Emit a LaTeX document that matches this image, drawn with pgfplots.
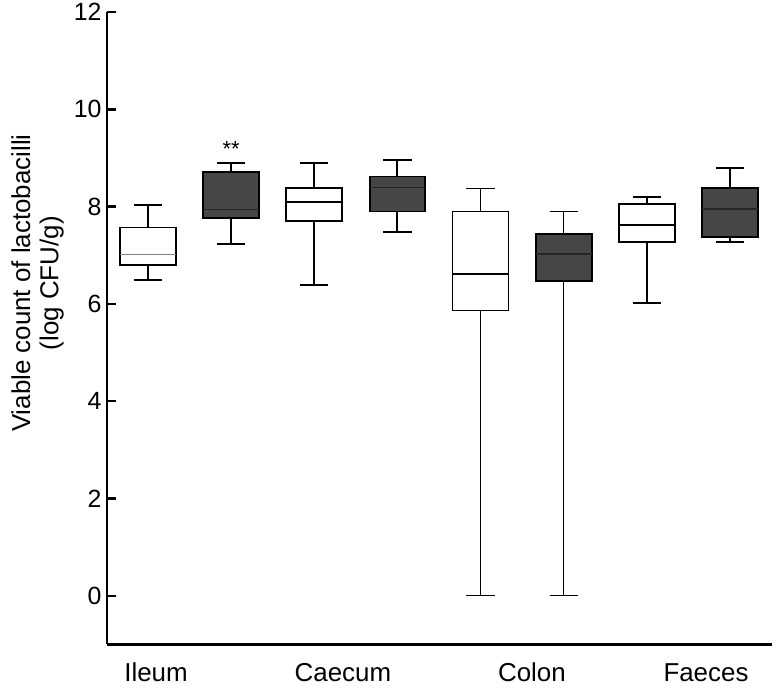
\documentclass[border=0pt]{standalone}
\usepackage{pgfplots}
\pgfplotsset{compat=1.18}
\usepgfplotslibrary{statistics}
\usepackage{fontspec}
\setmainfont{Liberation Sans}
\definecolor{darkbox}{RGB}{70,70,70}
\begin{document}
\begin{tikzpicture}
\begin{axis}[
  scale only axis,
  width=665bp, height=632bp,
  xmin=0.507, xmax=8.505, ymin=-0.99, ymax=12,
  axis x line*=bottom, axis y line*=left,
  x axis line style={-, line width=3pt},
  y axis line style={-, line width=3pt},
  ytick={0,2,4,6,8,10,12},
  xtick={1.096,3.345,5.618,7.711},
  xticklabels={Ileum,Caecum,Colon,Faeces},
  x tick style={draw=none},
  y tick style={line width=2.4pt, black},
  tick align=inside, major tick length=9bp,
  yticklabel style={font=\fontsize{25}{29}\selectfont, black, xshift=-2bp},
  xticklabel style={font=\fontsize{26}{30}\selectfont, black, text height=19bp, text depth=0bp, yshift=-15bp},
  /pgf/number format/assume math mode=true,
  ylabel={Viable count of lactobacilli\\(log CFU/g)},
  ylabel style={align=center, font=\fontsize{26}{28.5}\selectfont, at={(rel axis cs:-0.1045,0.571)}, anchor=center},
  clip=false,
  boxplot/draw direction=y,
  boxplot/box extend=0.67,
  boxplot/whisker extend=0.34,
]
\addplot[draw=black, line width=1.9pt, fill=white, boxplot/every median/.style={draw=gray, line width=1.4pt},
  boxplot prepared={median=7.02, upper quartile=7.57, lower quartile=6.80, upper whisker=8.04, lower whisker=6.49, draw position=1}] coordinates {};
\addplot[draw=black, line width=1.9pt, fill=darkbox, boxplot/every median/.style={draw=black!85, line width=1.7pt},
  boxplot prepared={median=7.94, upper quartile=8.72, lower quartile=7.76, upper whisker=8.90, lower whisker=7.23, draw position=2}] coordinates {};
\addplot[draw=black, line width=1.9pt, fill=white, boxplot/every median/.style={draw=black, line width=1.7pt},
  boxplot prepared={median=8.10, upper quartile=8.38, lower quartile=7.71, upper whisker=8.90, lower whisker=6.39, draw position=3}] coordinates {};
\addplot[draw=black, line width=1.9pt, fill=darkbox, boxplot/every median/.style={draw=black!85, line width=1.7pt},
  boxplot prepared={median=8.39, upper quartile=8.62, lower quartile=7.90, upper whisker=8.95, lower whisker=7.47, draw position=4}] coordinates {};
\addplot[draw=black, line width=1.5pt, fill=white, boxplot/every median/.style={draw=black, line width=1.5pt},
  boxplot/every whisker/.style={line width=1.2pt},
  boxplot prepared={median=6.62, upper quartile=7.90, lower quartile=5.86, upper whisker=8.38, lower whisker=0, draw position=5}] coordinates {};
\addplot[draw=black, line width=1.9pt, fill=darkbox, boxplot/every median/.style={draw=black!85, line width=1.7pt},
  boxplot/every whisker/.style={line width=1.2pt},
  boxplot prepared={median=7.03, upper quartile=7.44, lower quartile=6.47, upper whisker=7.90, lower whisker=0, draw position=6}] coordinates {};
\addplot[draw=black, line width=1.9pt, fill=white, boxplot/every median/.style={draw=black, line width=1.7pt},
  boxplot prepared={median=7.62, upper quartile=8.06, lower quartile=7.28, upper whisker=8.19, lower whisker=6.01, draw position=7}] coordinates {};
\addplot[draw=black, line width=1.9pt, fill=darkbox, boxplot/every median/.style={draw=black!85, line width=1.7pt},
  boxplot prepared={median=7.95, upper quartile=8.38, lower quartile=7.37, upper whisker=8.80, lower whisker=7.28, draw position=8}] coordinates {};
\node[font=\fontsize{22}{26}\selectfont] at (axis cs:2,9.18) {**};
\path (rel axis cs:0,0) ++(-107bp,-43bp) (rel axis cs:1,1) ++(4bp,10bp);
\end{axis}
\end{tikzpicture}
\end{document}
